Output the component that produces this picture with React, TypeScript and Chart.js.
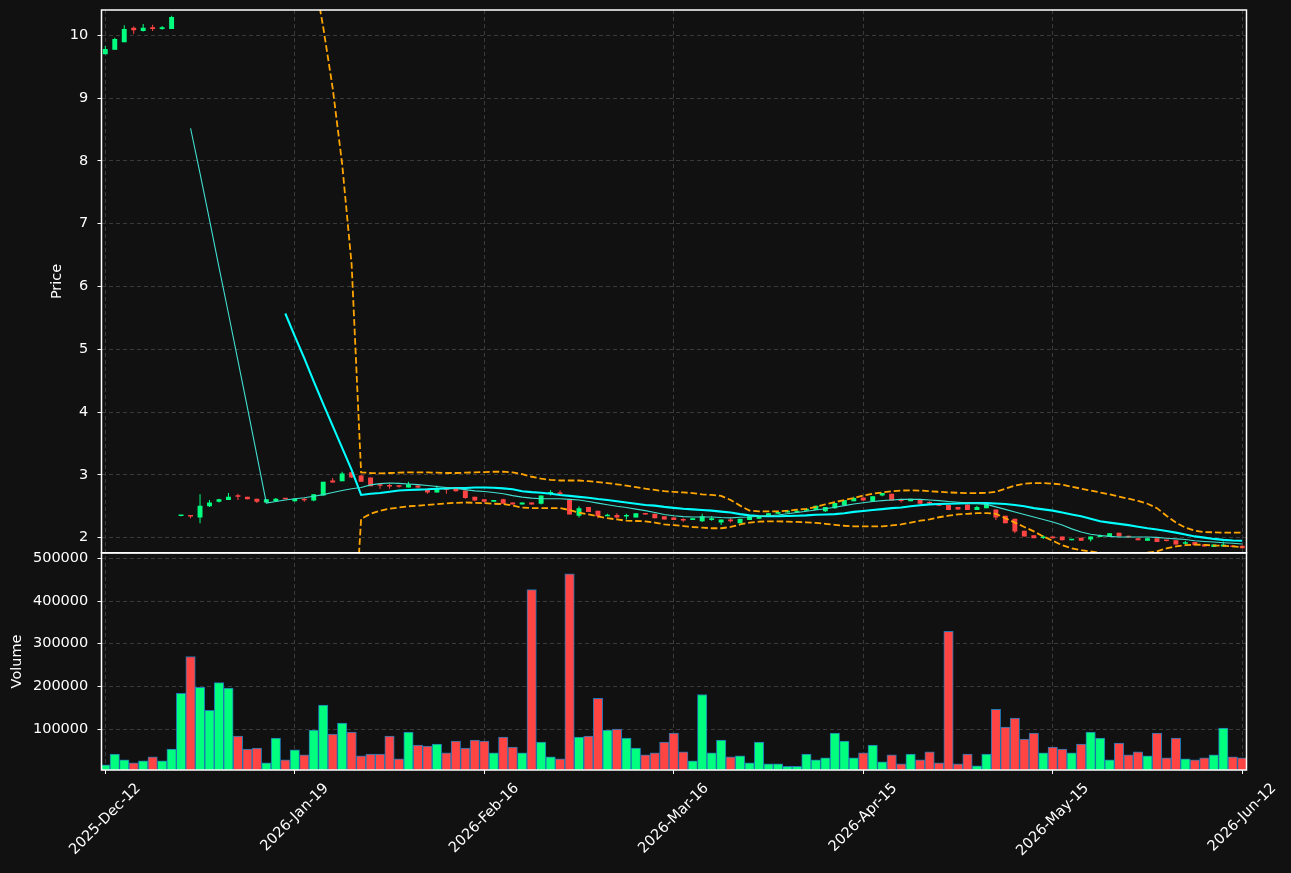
import React, { useEffect, useRef } from 'react';
import { Chart, registerables } from 'chart.js';

Chart.register(...registerables);

// ---- axis ticks / labels ----
const TICK_POS = [0, 20, 40, 60, 80, 100, 120];
const TICK_LABELS = ['2025-Dec-12', '2026-Jan-19', '2026-Feb-16', '2026-Mar-16', '2026-Apr-15', '2026-May-15', '2026-Jun-12'];
const PRICE_TICKS = [2, 3, 4, 5, 6, 7, 8, 9, 10];
const VOLUME_TICKS = [100000, 200000, 300000, 400000, 500000];

// ---- OHLC (one entry per trading day, index 0..120) ----
const OPEN = [9.70, 9.77, 9.89, 10.12, 10.07, 10.13, 10.10, 10.10, 2.345, 2.345,
  2.32, 2.50, 2.57, 2.60, 2.66, 2.65, 2.62, 2.56, 2.58, 2.62,
  2.58, 2.605, 2.59, 2.67, 2.91, 2.90, 3.04, 2.99, 2.96, 2.835,
  2.825, 2.825, 2.80, 2.83, 2.78, 2.72, 2.77, 2.78, 2.75, 2.65,
  2.61, 2.57, 2.61, 2.56, 2.53, 2.56, 2.54, 2.705, 2.705, 2.60,
  2.35, 2.49, 2.43, 2.34, 2.36, 2.335, 2.32, 2.39, 2.38, 2.34,
  2.32, 2.285, 2.28, 2.26, 2.28, 2.24, 2.29, 2.23, 2.28, 2.30,
  2.35, 2.38, 2.40, 2.40, 2.43, 2.44, 2.42, 2.47, 2.52, 2.58,
  2.64, 2.58, 2.67, 2.70, 2.595, 2.58, 2.61, 2.555, 2.54, 2.52,
  2.49, 2.53, 2.44, 2.47, 2.45, 2.35, 2.30, 2.11, 2.04, 1.995,
  2.02, 2.02, 1.96, 2.00, 1.97, 2.01, 2.01, 2.08, 2.015, 1.99,
  1.95, 1.99, 1.955, 1.96, 1.905, 1.93, 1.89, 1.85, 1.86, 1.87,
  1.87];
const HIGH = [9.83, 9.96, 10.16, 10.14, 10.18, 10.17, 10.15, 10.31, 2.36, 2.35,
  2.69, 2.60, 2.62, 2.71, 2.70, 2.65, 2.62, 2.61, 2.63, 2.62,
  2.63, 2.63, 2.69, 2.89, 2.95, 3.05, 3.05, 3.00, 2.96, 2.87,
  2.86, 2.83, 2.89, 2.83, 2.78, 2.83, 2.80, 2.78, 2.75, 2.65,
  2.61, 2.60, 2.62, 2.56, 2.56, 2.56, 2.67, 2.76, 2.75, 2.62,
  2.50, 2.49, 2.43, 2.38, 2.39, 2.38, 2.39, 2.39, 2.38, 2.34,
  2.32, 2.31, 2.31, 2.38, 2.34, 2.29, 2.31, 2.30, 2.34, 2.34,
  2.39, 2.41, 2.43, 2.44, 2.47, 2.51, 2.49, 2.55, 2.60, 2.65,
  2.64, 2.66, 2.71, 2.70, 2.62, 2.62, 2.61, 2.58, 2.54, 2.52,
  2.49, 2.53, 2.51, 2.53, 2.45, 2.35, 2.30, 2.11, 2.04, 2.04,
  2.02, 2.02, 1.98, 2.00, 2.02, 2.05, 2.07, 2.08, 2.03, 1.99,
  1.99, 1.99, 1.96, 1.96, 1.95, 1.93, 1.89, 1.89, 1.94, 1.87,
  1.87];
const LOW = [9.70, 9.77, 9.89, 10.02, 10.06, 10.07, 10.09, 10.10, 2.34, 2.31,
  2.23, 2.49, 2.56, 2.60, 2.60, 2.61, 2.55, 2.56, 2.58, 2.61,
  2.57, 2.57, 2.58, 2.67, 2.88, 2.90, 2.95, 2.89, 2.82, 2.78,
  2.78, 2.80, 2.80, 2.79, 2.70, 2.72, 2.70, 2.73, 2.62, 2.58,
  2.56, 2.57, 2.54, 2.53, 2.53, 2.53, 2.53, 2.67, 2.68, 2.37,
  2.32, 2.41, 2.31, 2.34, 2.30, 2.29, 2.32, 2.37, 2.31, 2.29,
  2.28, 2.25, 2.28, 2.25, 2.27, 2.20, 2.24, 2.23, 2.28, 2.30,
  2.35, 2.38, 2.40, 2.40, 2.43, 2.44, 2.41, 2.46, 2.52, 2.58,
  2.59, 2.58, 2.66, 2.59, 2.56, 2.58, 2.54, 2.52, 2.51, 2.44,
  2.45, 2.44, 2.44, 2.47, 2.28, 2.23, 2.07, 2.02, 1.99, 1.98,
  1.99, 1.96, 1.96, 1.95, 1.94, 2.01, 2.01, 2.02, 2.00, 1.96,
  1.95, 1.93, 1.94, 1.89, 1.89, 1.88, 1.86, 1.85, 1.86, 1.85,
  1.83];
const CLOSE = [9.78, 9.94, 10.10, 10.08, 10.12, 10.10, 10.13, 10.29, 2.355, 2.335,
  2.51, 2.56, 2.61, 2.65, 2.65, 2.61, 2.57, 2.61, 2.62, 2.61,
  2.62, 2.595, 2.69, 2.89, 2.88, 3.02, 2.96, 2.89, 2.82, 2.825,
  2.815, 2.81, 2.85, 2.80, 2.72, 2.78, 2.76, 2.74, 2.63, 2.59,
  2.57, 2.60, 2.54, 2.53, 2.56, 2.53, 2.67, 2.715, 2.695, 2.37,
  2.47, 2.41, 2.34, 2.36, 2.32, 2.345, 2.39, 2.37, 2.31, 2.29,
  2.28, 2.275, 2.31, 2.34, 2.31, 2.29, 2.26, 2.30, 2.34, 2.34,
  2.39, 2.41, 2.43, 2.43, 2.46, 2.51, 2.49, 2.55, 2.60, 2.63,
  2.59, 2.66, 2.71, 2.59, 2.585, 2.62, 2.54, 2.545, 2.51, 2.44,
  2.45, 2.44, 2.49, 2.53, 2.32, 2.23, 2.10, 2.02, 1.99, 2.005,
  1.99, 1.96, 1.98, 1.95, 2.02, 2.04, 2.07, 2.02, 2.005, 1.96,
  1.99, 1.93, 1.945, 1.89, 1.915, 1.88, 1.86, 1.89, 1.89, 1.85,
  1.83];
const VOLUME = [16000, 41600, 27600, 20600, 25300, 34600, 25300, 53300, 184000, 270000,
  198000, 143600, 209000, 196000, 83700, 53300, 55600, 20600, 79000, 27600,
  51000, 39300, 97700, 156000, 88000, 114000, 93000, 37000, 41600, 41600,
  83700, 30000, 93000, 62600, 60300, 65000, 44000, 72000, 55600, 74300,
  72000, 44000, 81000, 58000, 44000, 427000, 69600, 34600, 30000, 464000,
  81000, 83700, 172000, 97700, 100000, 79000, 55600, 39300, 44000, 69600,
  90700, 46300, 25300, 181000, 44000, 74300, 34600, 37000, 20600, 69600,
  18300, 18300, 12800, 12800, 41600, 27600, 32300, 90700, 72000, 32300,
  44000, 62600, 23000, 39300, 18300, 41600, 27600, 46300, 20600, 329000,
  18300, 41600, 13600, 41600, 146000, 104700, 125700, 76700, 90700, 44000,
  58000, 53300, 44000, 65000, 93000, 79000, 27600, 67300, 39300, 46300,
  37000, 90700, 32300, 79000, 30000, 27600, 32300, 39300, 102000, 34600,
  32300];

// ---- indicator lines ----
const N9 = [null, null, null, null, null, null, null, null, null];
const N19 = [null, null, null, null, null, null, null, null, null, null, null, null, null, null, null, null, null, null, null];
const MA10 = [...N9,
  8.52, 7.80, 7.06, 6.31, 5.57, 4.82, 4.07, 3.31, 2.55, 2.575,
  2.60, 2.62, 2.635, 2.66, 2.685, 2.72, 2.75, 2.78, 2.80, 2.84,
  2.86, 2.87, 2.865, 2.855, 2.845, 2.83, 2.815, 2.80, 2.785, 2.765,
  2.745, 2.735, 2.72, 2.70, 2.67, 2.645, 2.63, 2.62, 2.62, 2.62,
  2.61, 2.60, 2.575, 2.55, 2.525, 2.50, 2.48, 2.455, 2.43, 2.40,
  2.37, 2.35, 2.335, 2.33, 2.33, 2.33, 2.32, 2.315, 2.325, 2.33,
  2.34, 2.35, 2.36, 2.38, 2.40, 2.42, 2.44, 2.46, 2.485, 2.51,
  2.535, 2.555, 2.575, 2.59, 2.60, 2.61, 2.61, 2.61, 2.60, 2.59,
  2.575, 2.565, 2.555, 2.545, 2.53, 2.49, 2.45, 2.41, 2.37, 2.33,
  2.29, 2.25, 2.20, 2.14, 2.09, 2.055, 2.035, 2.02, 2.01, 2.01,
  2.01, 2.01, 2.005, 1.99, 1.98, 1.97, 1.95, 1.94, 1.93, 1.92,
  1.91, 1.90];
const MA20 = [...N19,
  5.57, 5.21, 4.86, 4.49, 4.13, 3.78, 3.43, 3.08, 2.68, 2.70,
  2.71, 2.73, 2.75, 2.76, 2.765, 2.77, 2.78, 2.785, 2.79, 2.79,
  2.80, 2.80, 2.795, 2.785, 2.77, 2.74, 2.725, 2.715, 2.70, 2.68,
  2.665, 2.65, 2.635, 2.615, 2.60, 2.58, 2.56, 2.54, 2.52, 2.51,
  2.49, 2.475, 2.46, 2.45, 2.44, 2.43, 2.415, 2.40, 2.375, 2.355,
  2.345, 2.34, 2.34, 2.345, 2.35, 2.355, 2.365, 2.37, 2.375, 2.39,
  2.41, 2.425, 2.44, 2.455, 2.47, 2.48, 2.50, 2.515, 2.53, 2.535,
  2.54, 2.545, 2.55, 2.55, 2.55, 2.545, 2.535, 2.52, 2.50, 2.47,
  2.45, 2.43, 2.40, 2.37, 2.34, 2.30, 2.26, 2.24, 2.22, 2.20,
  2.175, 2.15, 2.13, 2.105, 2.08, 2.05, 2.02, 2.00, 1.98, 1.965,
  1.955, 1.95];
const BB_UPPER = [...N19,
  12.95, 12.4, 11.74, 10.99, 10.13, 9.16, 7.95, 6.35, 3.04, 3.03,
  3.025, 3.03, 3.035, 3.04, 3.04, 3.04, 3.035, 3.03, 3.03, 3.035,
  3.04, 3.045, 3.05, 3.05, 3.04, 3.01, 2.97, 2.94, 2.92, 2.91,
  2.91, 2.91, 2.90, 2.885, 2.87, 2.85, 2.83, 2.805, 2.78, 2.76,
  2.74, 2.73, 2.72, 2.71, 2.69, 2.68, 2.665, 2.60, 2.51, 2.43,
  2.42, 2.42, 2.42, 2.43, 2.445, 2.46, 2.49, 2.53, 2.565, 2.60,
  2.63, 2.67, 2.70, 2.72, 2.74, 2.75, 2.755, 2.75, 2.74, 2.73,
  2.72, 2.715, 2.71, 2.71, 2.715, 2.73, 2.78, 2.83, 2.86, 2.87,
  2.87, 2.86, 2.845, 2.81, 2.78, 2.75, 2.72, 2.69, 2.655, 2.62,
  2.585, 2.54, 2.47, 2.35, 2.24, 2.16, 2.11, 2.09, 2.085, 2.08,
  2.08, 2.08];
const BB_LOWER = [...N19,
  -1.85, -1.95, -2.02, -2.01, -1.87, -1.6, -1.12, -0.2, 2.30, 2.38,
  2.43, 2.46, 2.48, 2.50, 2.51, 2.52, 2.535, 2.545, 2.555, 2.56,
  2.555, 2.55, 2.54, 2.535, 2.51, 2.48, 2.47, 2.47, 2.47, 2.47,
  2.44, 2.40, 2.37, 2.34, 2.31, 2.29, 2.27, 2.265, 2.26, 2.24,
  2.21, 2.20, 2.185, 2.17, 2.16, 2.15, 2.15, 2.17, 2.21, 2.24,
  2.255, 2.26, 2.26, 2.255, 2.25, 2.245, 2.235, 2.22, 2.205, 2.19,
  2.18, 2.18, 2.18, 2.18, 2.195, 2.21, 2.24, 2.27, 2.29, 2.325,
  2.35, 2.37, 2.38, 2.39, 2.39, 2.38, 2.31, 2.24, 2.17, 2.10,
  2.02, 1.95, 1.88, 1.83, 1.80, 1.78, 1.76, 1.75, 1.745, 1.745,
  1.75, 1.76, 1.78, 1.83, 1.86, 1.88, 1.89, 1.885, 1.875, 1.87,
  1.86, 1.85];

const UP = '#00ff7f';
const DOWN = '#ff4444';
const GRID = '#3a3a3a';
const TEXT = '#ffffff';
const FONT_FAMILY = "'DejaVu Sans', sans-serif";
const FONT_SIZE = 14.5;

const spinePlugin = {
  id: 'spines',
  afterDraw(chart: any) {
    const { ctx, chartArea } = chart;
    ctx.save();
    ctx.strokeStyle = '#ffffff';
    ctx.lineWidth = 1.5;
    for (const id of ['y', 'yv']) {
      const s = chart.scales[id];
      ctx.strokeRect(chartArea.left, s.top, chartArea.right - chartArea.left, s.bottom - s.top);
    }
    ctx.restore();
  },
};

const xLabelPlugin = {
  id: 'xlabels',
  afterDraw(chart: any) {
    const { ctx } = chart;
    const s = chart.scales.x;
    ctx.save();
    ctx.font = `${FONT_SIZE}px ${FONT_FAMILY}`;
    ctx.fillStyle = TEXT;
    ctx.textAlign = 'center';
    ctx.textBaseline = 'middle';
    TICK_POS.forEach((v, k) => {
      const label = TICK_LABELS[k];
      const w = ctx.measureText(label).width;
      const h = FONT_SIZE * 1.16;
      const half = ((w + h) * Math.SQRT1_2) / 2;
      const cx = s.getPixelForValue(v);
      const cy = s.top + 10 + half;
      ctx.save();
      ctx.translate(cx, cy);
      ctx.rotate(-Math.PI / 4);
      ctx.fillText(label, 0, 0);
      ctx.restore();
    });
    ctx.restore();
  },
};

export default function App() {
  const ref = useRef<HTMLCanvasElement>(null);

  useEffect(() => {
    document.body.style.margin = '0';
    document.body.style.background = '#111111';
    const canvas = ref.current;
    if (!canvas) return;
    const idx = OPEN.map((_, i) => i);
    const colors = idx.map((i) => (CLOSE[i] >= OPEN[i] ? UP : DOWN));
    const pts = (arr: (number | null)[]) => arr.map((v, i) => ({ x: i, y: v }));
    const tickFont = { family: FONT_FAMILY, size: FONT_SIZE };

    const gridCfg = { color: GRID, lineWidth: 1, tickColor: '#ffffff', tickLength: 4, tickWidth: 1, drawTicks: true, offset: false };
    const borderCfg = { display: false, dash: [4, 3] };
    const fitY = (s: any) => { s.width = 101.5; s.paddingTop = 0; s.paddingBottom = 0; };

    const chart = new Chart(canvas, {
      type: 'bar',
      data: {
        datasets: [
          { type: 'line', label: 'MA10', data: pts(MA10), yAxisID: 'y', borderColor: '#40e0d0', borderWidth: 1.1, pointRadius: 0, tension: 0, order: 0, clip: 0 },
          { type: 'line', label: 'MA20', data: pts(MA20), yAxisID: 'y', borderColor: '#00ffff', borderWidth: 2.1, pointRadius: 0, tension: 0, order: 0, clip: 0 },
          { type: 'line', label: 'BB upper', data: pts(BB_UPPER), yAxisID: 'y', borderColor: '#ffa500', borderWidth: 1.8, borderDash: [6.6, 2.9], pointRadius: 0, tension: 0, order: 0, clip: 0 },
          { type: 'line', label: 'BB lower', data: pts(BB_LOWER), yAxisID: 'y', borderColor: '#ffa500', borderWidth: 1.8, borderDash: [6.6, 2.9], pointRadius: 0, tension: 0, order: 0, clip: 0 },
          { type: 'bar', label: 'body', data: idx.map((i) => ({ x: i, y: [OPEN[i], CLOSE[i]] })), yAxisID: 'y', backgroundColor: colors, grouped: false, barPercentage: 0.52, categoryPercentage: 1, minBarLength: 1.5, order: 1 },
          { type: 'bar', label: 'wick', data: idx.map((i) => ({ x: i, y: [LOW[i], HIGH[i]] })), yAxisID: 'y', backgroundColor: colors, grouped: false, barPercentage: 0.12, categoryPercentage: 1, maxBarThickness: 1, order: 2 },
          { type: 'bar', label: 'Volume', data: idx.map((i) => ({ x: i, y: VOLUME[i] })), yAxisID: 'yv', backgroundColor: colors, borderColor: '#1f77b4', borderWidth: 1, grouped: false, barPercentage: 1, categoryPercentage: 1, order: 3 },
        ],
      } as any,
      options: {
        animation: false,
        responsive: false,
        devicePixelRatio: 1,
        layout: { padding: { left: 0, right: 44.5, top: 10, bottom: 0 } },
        plugins: { legend: { display: false }, tooltip: { enabled: false } },
        scales: {
          x: {
            type: 'linear',
            position: 'bottom',
            min: -0.4,
            max: 120.45,
            offset: false,
            afterBuildTicks: (s: any) => { s.ticks = TICK_POS.map((v) => ({ value: v })); },
            ticks: { display: false },
            grid: gridCfg,
            border: borderCfg,
            afterFit: (s: any) => { s.height = 103; s.paddingLeft = 0; s.paddingRight = 0; },
          },
          y: {
            type: 'linear',
            position: 'left',
            stack: 'main',
            stackWeight: 2.5,
            weight: 2,
            min: 1.758,
            max: 10.403,
            beginAtZero: false,
            afterBuildTicks: (s: any) => { s.ticks = PRICE_TICKS.map((v) => ({ value: v })); },
            ticks: { color: TEXT, font: tickFont, padding: 9.2, autoSkip: false, callback: (v: any) => String(v) },
            grid: gridCfg,
            border: borderCfg,
            title: { display: true, text: 'Price', color: TEXT, font: tickFont, padding: { top: 48.3, bottom: 0 } },
            afterFit: fitY,
          },
          yv: {
            type: 'linear',
            position: 'left',
            stack: 'main',
            stackWeight: 1,
            weight: 1,
            min: 4000,
            max: 513000,
            beginAtZero: false,
            afterBuildTicks: (s: any) => { s.ticks = VOLUME_TICKS.map((v) => ({ value: v })); },
            ticks: { color: TEXT, font: tickFont, padding: 9.2, autoSkip: false, callback: (v: any) => String(v) },
            grid: gridCfg,
            border: borderCfg,
            title: { display: true, text: 'Volume', color: TEXT, font: tickFont, padding: { top: 8.3, bottom: 0 } },
            afterFit: fitY,
          },
        },
      } as any,
      plugins: [spinePlugin, xLabelPlugin],
    });

    return () => chart.destroy();
  }, []);

  return (
    <div style={{ position: 'fixed', left: 0, top: 0, width: 1291, height: 873, background: '#111111' }}>
      <canvas ref={ref} width={1291} height={873} style={{ display: 'block', width: 1291, height: 873 }} />
    </div>
  );
}
